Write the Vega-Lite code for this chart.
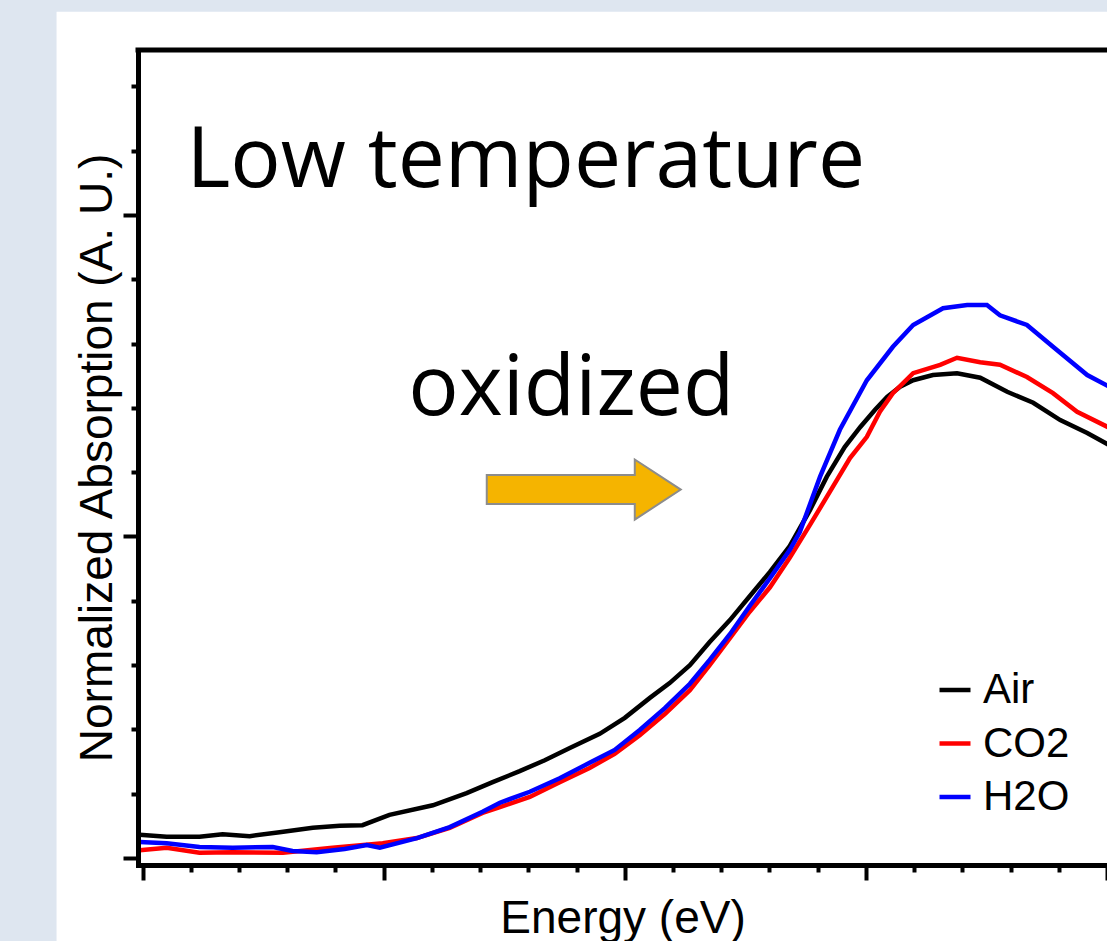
{
  "$schema": "https://vega.github.io/schema/vega-lite/v6.json",
  "autosize": {"type": "none"},
  "width": 969,
  "height": 815,
  "padding": {"left": 138, "top": 50, "right": 0, "bottom": 76},
  "background": "#dee6f0",
  "config": {
    "view": {"stroke": null},
    "axis": {
      "grid": false,
      "labels": false,
      "domainColor": "black",
      "domainWidth": 5,
      "domainCap": "square",
      "tickColor": "black",
      "tickWidth": 4,
      "titleFont": "Liberation Sans",
      "titleFontSize": 46,
      "titleFontWeight": "normal",
      "titleColor": "black"
    }
  },
  "datasets": {
    "spectra": [
      {"E": -0.06, "A": 0.036, "gas": "Air"},
      {"E": 0.50, "A": 0.033, "gas": "Air"},
      {"E": 1.18, "A": 0.033, "gas": "Air"},
      {"E": 1.66, "A": 0.037, "gas": "Air"},
      {"E": 2.22, "A": 0.034, "gas": "Air"},
      {"E": 2.84, "A": 0.040, "gas": "Air"},
      {"E": 3.53, "A": 0.047, "gas": "Air"},
      {"E": 4.09, "A": 0.050, "gas": "Air"},
      {"E": 4.56, "A": 0.051, "gas": "Air"},
      {"E": 5.12, "A": 0.067, "gas": "Air"},
      {"E": 6.02, "A": 0.082, "gas": "Air"},
      {"E": 6.72, "A": 0.101, "gas": "Air"},
      {"E": 7.26, "A": 0.118, "gas": "Air"},
      {"E": 7.82, "A": 0.135, "gas": "Air"},
      {"E": 8.34, "A": 0.152, "gas": "Air"},
      {"E": 8.86, "A": 0.171, "gas": "Air"},
      {"E": 9.48, "A": 0.193, "gas": "Air"},
      {"E": 10.00, "A": 0.218, "gas": "Air"},
      {"E": 10.52, "A": 0.249, "gas": "Air"},
      {"E": 10.93, "A": 0.272, "gas": "Air"},
      {"E": 11.35, "A": 0.300, "gas": "Air"},
      {"E": 11.76, "A": 0.336, "gas": "Air"},
      {"E": 12.18, "A": 0.370, "gas": "Air"},
      {"E": 12.59, "A": 0.407, "gas": "Air"},
      {"E": 13.01, "A": 0.445, "gas": "Air"},
      {"E": 13.42, "A": 0.485, "gas": "Air"},
      {"E": 13.84, "A": 0.541, "gas": "Air"},
      {"E": 14.19, "A": 0.593, "gas": "Air"},
      {"E": 14.56, "A": 0.639, "gas": "Air"},
      {"E": 14.88, "A": 0.670, "gas": "Air"},
      {"E": 15.19, "A": 0.697, "gas": "Air"},
      {"E": 15.44, "A": 0.717, "gas": "Air"},
      {"E": 15.71, "A": 0.733, "gas": "Air"},
      {"E": 15.98, "A": 0.743, "gas": "Air"},
      {"E": 16.39, "A": 0.751, "gas": "Air"},
      {"E": 16.89, "A": 0.754, "gas": "Air"},
      {"E": 17.37, "A": 0.747, "gas": "Air"},
      {"E": 17.93, "A": 0.725, "gas": "Air"},
      {"E": 18.47, "A": 0.708, "gas": "Air"},
      {"E": 19.03, "A": 0.681, "gas": "Air"},
      {"E": 19.59, "A": 0.661, "gas": "Air"},
      {"E": 20.05, "A": 0.642, "gas": "Air"},
      {"E": -0.06, "A": 0.012, "gas": "CO2"},
      {"E": 0.50, "A": 0.016, "gas": "CO2"},
      {"E": 1.18, "A": 0.008, "gas": "CO2"},
      {"E": 1.87, "A": 0.009, "gas": "CO2"},
      {"E": 2.91, "A": 0.008, "gas": "CO2"},
      {"E": 3.94, "A": 0.016, "gas": "CO2"},
      {"E": 4.98, "A": 0.023, "gas": "CO2"},
      {"E": 5.69, "A": 0.031, "gas": "CO2"},
      {"E": 6.37, "A": 0.047, "gas": "CO2"},
      {"E": 7.05, "A": 0.070, "gas": "CO2"},
      {"E": 7.41, "A": 0.079, "gas": "CO2"},
      {"E": 8.03, "A": 0.095, "gas": "CO2"},
      {"E": 8.65, "A": 0.118, "gas": "CO2"},
      {"E": 9.27, "A": 0.140, "gas": "CO2"},
      {"E": 9.79, "A": 0.162, "gas": "CO2"},
      {"E": 10.31, "A": 0.191, "gas": "CO2"},
      {"E": 10.83, "A": 0.224, "gas": "CO2"},
      {"E": 11.35, "A": 0.261, "gas": "CO2"},
      {"E": 11.76, "A": 0.300, "gas": "CO2"},
      {"E": 12.18, "A": 0.342, "gas": "CO2"},
      {"E": 12.59, "A": 0.383, "gas": "CO2"},
      {"E": 13.01, "A": 0.421, "gas": "CO2"},
      {"E": 13.42, "A": 0.467, "gas": "CO2"},
      {"E": 13.84, "A": 0.518, "gas": "CO2"},
      {"E": 14.40, "A": 0.588, "gas": "CO2"},
      {"E": 14.67, "A": 0.622, "gas": "CO2"},
      {"E": 15.02, "A": 0.655, "gas": "CO2"},
      {"E": 15.29, "A": 0.694, "gas": "CO2"},
      {"E": 15.56, "A": 0.723, "gas": "CO2"},
      {"E": 15.98, "A": 0.754, "gas": "CO2"},
      {"E": 16.54, "A": 0.767, "gas": "CO2"},
      {"E": 16.89, "A": 0.778, "gas": "CO2"},
      {"E": 17.37, "A": 0.771, "gas": "CO2"},
      {"E": 17.78, "A": 0.767, "gas": "CO2"},
      {"E": 18.34, "A": 0.748, "gas": "CO2"},
      {"E": 18.88, "A": 0.723, "gas": "CO2"},
      {"E": 19.38, "A": 0.694, "gas": "CO2"},
      {"E": 20.05, "A": 0.669, "gas": "CO2"},
      {"E": -0.06, "A": 0.025, "gas": "H2O"},
      {"E": 0.50, "A": 0.023, "gas": "H2O"},
      {"E": 1.18, "A": 0.017, "gas": "H2O"},
      {"E": 1.87, "A": 0.016, "gas": "H2O"},
      {"E": 2.70, "A": 0.017, "gas": "H2O"},
      {"E": 3.11, "A": 0.011, "gas": "H2O"},
      {"E": 3.61, "A": 0.009, "gas": "H2O"},
      {"E": 4.19, "A": 0.014, "gas": "H2O"},
      {"E": 4.65, "A": 0.020, "gas": "H2O"},
      {"E": 4.92, "A": 0.016, "gas": "H2O"},
      {"E": 5.69, "A": 0.031, "gas": "H2O"},
      {"E": 6.37, "A": 0.048, "gas": "H2O"},
      {"E": 7.05, "A": 0.072, "gas": "H2O"},
      {"E": 7.41, "A": 0.086, "gas": "H2O"},
      {"E": 8.03, "A": 0.103, "gas": "H2O"},
      {"E": 8.65, "A": 0.124, "gas": "H2O"},
      {"E": 9.27, "A": 0.148, "gas": "H2O"},
      {"E": 9.79, "A": 0.168, "gas": "H2O"},
      {"E": 10.31, "A": 0.199, "gas": "H2O"},
      {"E": 10.83, "A": 0.233, "gas": "H2O"},
      {"E": 11.35, "A": 0.271, "gas": "H2O"},
      {"E": 11.76, "A": 0.308, "gas": "H2O"},
      {"E": 12.18, "A": 0.348, "gas": "H2O"},
      {"E": 12.59, "A": 0.392, "gas": "H2O"},
      {"E": 13.01, "A": 0.435, "gas": "H2O"},
      {"E": 13.42, "A": 0.479, "gas": "H2O"},
      {"E": 13.63, "A": 0.507, "gas": "H2O"},
      {"E": 14.05, "A": 0.593, "gas": "H2O"},
      {"E": 14.46, "A": 0.666, "gas": "H2O"},
      {"E": 15.02, "A": 0.743, "gas": "H2O"},
      {"E": 15.56, "A": 0.795, "gas": "H2O"},
      {"E": 15.98, "A": 0.829, "gas": "H2O"},
      {"E": 16.60, "A": 0.855, "gas": "H2O"},
      {"E": 17.10, "A": 0.860, "gas": "H2O"},
      {"E": 17.51, "A": 0.860, "gas": "H2O"},
      {"E": 17.78, "A": 0.844, "gas": "H2O"},
      {"E": 18.34, "A": 0.829, "gas": "H2O"},
      {"E": 18.88, "A": 0.795, "gas": "H2O"},
      {"E": 19.59, "A": 0.751, "gas": "H2O"},
      {"E": 20.05, "A": 0.733, "gas": "H2O"}
    ],
    "panel": [{"x0": -1.784, "x1": 22, "y0": 1.316, "y1": -0.3}],
    "notes": [
      {"label": "Low temperature", "E": 7.946, "A": 1.0435},
      {"label": "oxidized", "E": 8.89, "A": 0.689}
    ],
    "arrow": [{"E": 9.149, "A": 0.573}]
  },
  "layer": [
    {
      "data": {"name": "panel"},
      "mark": {"type": "rect", "color": "white", "clip": false},
      "encoding": {
        "x": {"field": "x0", "type": "quantitative"},
        "x2": {"field": "x1"},
        "y": {"field": "y0", "type": "quantitative"},
        "y2": {"field": "y1"}
      }
    },
    {
      "data": {"name": "spectra"},
      "mark": {"type": "line", "strokeWidth": 4.5, "clip": true},
      "encoding": {
        "x": {
          "field": "E",
          "type": "quantitative",
          "scale": {"domain": [-0.095, 20.0], "nice": false, "zero": false},
          "axis": {
            "orient": "bottom",
            "zindex": 2,
            "values": [0,1,2,3,4,5,6,7,8,9,10,11,12,13,14,15,16,17,18,19,20],
            "tickSize": {"condition": {"test": "datum.value % 5 === 0", "value": 15}, "value": 7},
            "title": "Energy (eV)",
            "titleBaseline": "alphabetic",
            "titleY": 67
          }
        },
        "y": {
          "field": "A",
          "type": "quantitative",
          "scale": {"domain": [-0.0109, 1.2566], "nice": false, "zero": false},
          "axis": {
            "orient": "left",
            "zindex": 2,
            "values": [0,0.1,0.2,0.3,0.4,0.5,0.6,0.7,0.8,0.9,1.0,1.1,1.2],
            "tickSize": {"condition": {"test": "abs(datum.value*2 - round(datum.value*2)) < 0.001", "value": 15}, "value": 7},
            "title": "Normalized Absorption (A. U.)",
            "titleAngle": -90,
            "titleAlign": "center",
            "titleBaseline": "alphabetic",
            "titleX": -27,
            "titleY": 407.5
          }
        },
        "color": {
          "field": "gas",
          "type": "nominal",
          "scale": {"domain": ["Air", "CO2", "H2O"], "range": ["#000000", "#ff0000", "#0000ff"]},
          "legend": {
            "orient": "none",
            "legendX": 796,
            "legendY": 619,
            "title": null,
            "zindex": 2,
            "symbolType": "stroke",
            "symbolSize": 961,
            "symbolStrokeWidth": 4.5,
            "labelFont": "Liberation Sans",
            "labelFontSize": 42,
            "labelColor": "black",
            "labelOffset": 7,
            "rowPadding": 11.5,
            "padding": 0
          }
        }
      }
    },
    {
      "data": {"name": "panel"},
      "mark": {"type": "rule", "color": "black", "strokeWidth": 5, "strokeCap": "square"},
      "encoding": {"y": {"datum": 1.2566, "type": "quantitative"}}
    },
    {
      "data": {"name": "notes"},
      "mark": {"type": "text", "font": "Open Sans", "fontSize": 84, "color": "black", "align": "center", "baseline": "alphabetic"},
      "encoding": {
        "x": {"field": "E", "type": "quantitative"},
        "y": {"field": "A", "type": "quantitative"},
        "text": {"field": "label"}
      }
    },
    {
      "data": {"name": "arrow"},
      "mark": {
        "type": "point",
        "shape": "M -1 -0.15 L 0.526 -0.15 L 0.526 -0.31 L 1 0 L 0.526 0.31 L 0.526 0.15 L -1 0.15 Z",
        "size": 37636,
        "filled": true,
        "fill": "#f5b400",
        "stroke": "#8c8c8c",
        "strokeWidth": 2,
        "opacity": 1,
        "fillOpacity": 1
      },
      "encoding": {
        "x": {"field": "E", "type": "quantitative"},
        "y": {"field": "A", "type": "quantitative"}
      }
    }
  ]
}
